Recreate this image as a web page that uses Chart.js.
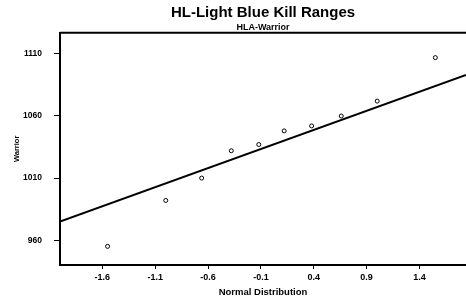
<!DOCTYPE html>
<html>
<head>
<meta charset="utf-8">
<script src="https://cdn.jsdelivr.net/npm/chart.js@4/dist/chart.umd.min.js"></script>
<style>
  html, body { margin: 0; padding: 0; background: #fff; }
  #wrap { width: 466px; height: 303px; }
</style>
</head>
<body>
<div id="wrap"><canvas id="qq"></canvas></div>
<script>
// normal quantiles vs observed Warrior values
const normalScores = [-1.55, -1.0, -0.66, -0.38, -0.12, 0.12, 0.38, 0.66, 1.0, 1.55]
const warriorValues = [955, 992, 1010, 1032, 1037, 1048, 1052, 1060, 1072, 1107]

// fitted line at the plot edges
const fitX = [-2.0, 1.84]
const fitY = [975, 1093]

const xTicks = [-1.6, -1.1, -0.6, -0.1, 0.4, 0.9, 1.4]
const xTickLabels = ['-1.6', '-1.1', '-0.6', '-0.1', '0.4', '0.9', '1.4']
const yTicks = [960, 1010, 1060, 1110]

const FONT = 'Liberation Sans, Arial, sans-serif'

const topBorder = {
  id: 'topBorder',
  afterDraw(chart) {
    const a = chart.chartArea
    const ctx = chart.ctx
    ctx.save()
    ctx.strokeStyle = '#000'
    ctx.lineWidth = 2
    ctx.beginPath()
    ctx.moveTo(a.left, a.top)
    ctx.lineTo(a.right, a.top)
    ctx.stroke()
    ctx.restore()
  }
}

const data = {
  datasets: [
    {
      type: 'scatter',
      label: 'Warrior',
      data: normalScores.map((x, i) => ({ x: x, y: warriorValues[i] })),
      pointStyle: 'circle',
      pointRadius: 2,
      borderColor: '#000',
      borderWidth: 1,
      backgroundColor: '#fff'
    },
    {
      type: 'line',
      label: 'fit',
      data: fitX.map((x, i) => ({ x: x, y: fitY[i] })),
      borderColor: '#000',
      borderWidth: 2,
      pointRadius: 0,
      fill: false
    }
  ]
}

const config = {
  type: 'scatter',
  data: data,
  plugins: [topBorder],
  options: {
    responsive: true,
    maintainAspectRatio: false,
    animation: false,
    layout: { padding: 0, autoPadding: false },
    plugins: {
      legend: { display: false },
      tooltip: { enabled: false },
      title: {
        display: true,
        fullSize: false,
        text: 'HL-Light Blue Kill Ranges',
        color: '#000',
        font: { family: FONT, size: 15, weight: 'bold' },
        padding: { top: 4, bottom: 0 }
      },
      subtitle: {
        display: true,
        fullSize: false,
        text: 'HLA-Warrior',
        color: '#000',
        font: { family: FONT, size: 9, weight: 'bold' },
        padding: { top: 0, bottom: 0 }
      }
    },
    scales: {
      x: {
        type: 'linear',
        min: -2.0,
        max: 1.84,
        afterBuildTicks: s => { s.ticks = xTicks.map(v => ({ value: v })) },
        afterFit: s => { s.height = 38; s.paddingLeft = 0; s.paddingRight = 0 },
        grid: { display: true, drawOnChartArea: false, drawTicks: true, tickLength: 4, color: '#000' },
        border: { display: true, color: '#000', width: 2 },
        ticks: {
          color: '#000',
          padding: 3,
          maxRotation: 0,
          font: { family: FONT, size: 9, weight: 'bold' },
          callback: (v, i) => xTickLabels[i]
        },
        title: {
          display: true,
          text: 'Normal Distribution',
          color: '#000',
          font: { family: FONT, size: 9.5, weight: 'bold' },
          padding: { top: 2, bottom: 5 }
        }
      },
      y: {
        type: 'linear',
        min: 940,
        max: 1127,
        afterBuildTicks: s => { s.ticks = yTicks.map(v => ({ value: v })) },
        afterFit: s => { s.width = 60; s.paddingTop = 0; s.paddingBottom = 0 },
        grid: { display: true, drawOnChartArea: false, drawTicks: true, tickLength: 6, color: '#000' },
        border: { display: true, color: '#000', width: 2 },
        ticks: {
          color: '#000',
          padding: 12,
          font: { family: FONT, size: 8.5, weight: 'bold' },
          callback: v => String(v)
        },
        title: {
          display: true,
          text: 'Warrior',
          color: '#000',
          font: { family: FONT, size: 7.5, weight: 'bold' },
          padding: { top: 12, bottom: 0 }
        }
      }
    }
  }
}

const qqChart = new Chart(document.getElementById('qq'), config)
</script>
</body>
</html>
